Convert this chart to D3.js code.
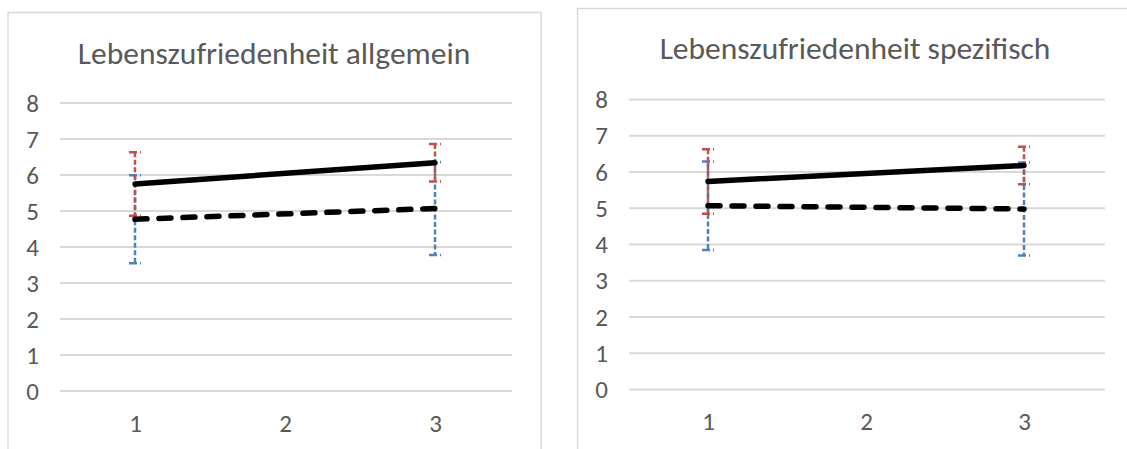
<!DOCTYPE html>
<html>
<head>
<meta charset="utf-8">
<script src="https://cdn.jsdelivr.net/npm/d3@7"></script>
<style>
  html, body { margin: 0; padding: 0; background: #fff; }
  svg { display: block; }
  text { font-family: Carlito, Calibri, Lato, "Noto Sans", sans-serif; fill: #595959; }
</style>
</head>
<body>
<svg id="chart" width="1127" height="449"></svg>
<script>
// Shared axis content
const categories = ["1", "2", "3"];
const yTickValues = [0, 1, 2, 3, 4, 5, 6, 7, 8];

// Panel 1: Lebenszufriedenheit allgemein
const allgemeinTitle = "Lebenszufriedenheit allgemein";
const allgemeinSolid = [5.75, null, 6.34];
const allgemeinSolidErr = [0.88, null, 0.52];
const allgemeinDashed = [4.77, null, 5.07];
const allgemeinDashedErr = [1.22, null, 1.29];

// Panel 2: Lebenszufriedenheit spezifisch
const spezifischTitle = "Lebenszufriedenheit spezifisch";
const spezifischSolid = [5.74, null, 6.18];
const spezifischSolidErr = [0.89, null, 0.52];
const spezifischDashed = [5.07, null, 4.98];
const spezifischDashedErr = [1.22, null, 1.28];

const svg = d3.select("#chart");

function drawPanel(cfg) {
  const g = svg.append("g");

  // chart frame
  g.append("rect")
    .attr("x", cfg.frame.x).attr("y", cfg.frame.y)
    .attr("width", cfg.frame.w).attr("height", cfg.frame.h)
    .attr("fill", "#fff").attr("stroke", "#d9d9d9").attr("stroke-width", 1.5);

  const x = d3.scalePoint().domain(categories).range([cfg.plot.x0, cfg.plot.x1]).padding(0.5);
  const y = d3.scaleLinear().domain([0, 8]).range([cfg.plot.yBottom, cfg.plot.yTop]);

  // horizontal gridlines
  g.append("g").selectAll("line").data(yTickValues).join("line")
    .attr("x1", cfg.plot.x0).attr("x2", cfg.plot.gridEnd)
    .attr("y1", d => y(d)).attr("y2", d => y(d))
    .attr("stroke", "#d9d9d9").attr("stroke-width", 2);

  // y tick labels
  const yAxis = d3.axisLeft(y).tickValues(yTickValues).tickSize(0).tickPadding(0).tickFormat(d3.format("d"));
  const ya = g.append("g").attr("transform", `translate(${cfg.yLabelX},0)`).call(yAxis)
    .attr("font-family", null).attr("font-size", null);
  ya.select(".domain").remove();
  ya.selectAll("text").style("font-size", cfg.tickSize + "px").attr("fill", "#595959");

  // x tick labels
  const xAxis = d3.axisBottom(x).tickSize(0).tickPadding(0);
  const xa = g.append("g").attr("transform", `translate(0,${cfg.xLabelY})`).call(xAxis)
    .attr("font-family", null).attr("font-size", null);
  xa.select(".domain").remove();
  xa.selectAll("text").style("font-size", cfg.tickSize + "px").attr("fill", "#595959").attr("dy", "0.35em");

  // title
  g.append("text")
    .attr("x", cfg.titleX).attr("y", cfg.titleY)
    .attr("text-anchor", "middle")
    .style("font-size", cfg.titleSize + "px")
    .text(cfg.title);

  const series = [
    { values: cfg.dashed, err: cfg.dashedErr, errColor: "#4f81bd", dash: "12,12" },
    { values: cfg.solid, err: cfg.solidErr, errColor: "#c0504d", dash: null }
  ];

  // error bars
  series.forEach(s => {
    const pts = categories.map((c, i) => ({ c, v: s.values[i], e: s.err[i] })).filter(p => p.v != null);
    const eg = g.append("g").attr("stroke", s.errColor).attr("stroke-width", 2.5).attr("fill", "none");
    eg.selectAll(".bar").data(pts).join("line").attr("class", "bar")
      .attr("x1", p => x(p.c)).attr("x2", p => x(p.c))
      .attr("y1", p => y(p.v + p.e)).attr("y2", p => y(p.v - p.e))
      .attr("stroke-dasharray", "5,2.5");
    ["top", "bottom"].forEach(side => {
      eg.selectAll(".cap-" + side).data(pts).join("line").attr("class", "cap-" + side)
        .attr("x1", p => x(p.c) - 6).attr("x2", p => x(p.c) + 6)
        .attr("y1", p => y(side === "top" ? p.v + p.e : p.v - p.e))
        .attr("y2", p => y(side === "top" ? p.v + p.e : p.v - p.e))
        .attr("stroke-dasharray", "8,3");
    });
  });

  // mean lines
  const line = d3.line().x(p => x(p.c)).y(p => y(p.v));
  series.forEach(s => {
    const pts = categories.map((c, i) => ({ c, v: s.values[i] })).filter(p => p.v != null);
    g.append("path").datum(pts)
      .attr("d", line)
      .attr("fill", "none").attr("stroke", "#000").attr("stroke-width", 5.5)
      .attr("stroke-linecap", "round").attr("stroke-linejoin", "round")
      .attr("stroke-dasharray", s.dash);
  });
}

drawPanel({
  title: allgemeinTitle,
  solid: allgemeinSolid, solidErr: allgemeinSolidErr,
  dashed: allgemeinDashed, dashedErr: allgemeinDashedErr,
  frame: { x: 8, y: 12.5, w: 533, h: 460 },
  plot: { x0: 60, x1: 510, gridEnd: 512, yTop: 103, yBottom: 391 },
  titleX: 274, titleY: 64, titleSize: 31.5,
  yLabelX: 39, xLabelY: 423, tickSize: 25
});

drawPanel({
  title: spezifischTitle,
  solid: spezifischSolid, solidErr: spezifischSolidErr,
  dashed: spezifischDashed, dashedErr: spezifischDashedErr,
  frame: { x: 577.5, y: 8.5, w: 580, h: 460 },
  plot: { x0: 629, x1: 1103, gridEnd: 1105, yTop: 99.5, yBottom: 389.5 },
  titleX: 855, titleY: 59, titleSize: 31.5,
  yLabelX: 608, xLabelY: 421, tickSize: 25
});
</script>
</body>
</html>
